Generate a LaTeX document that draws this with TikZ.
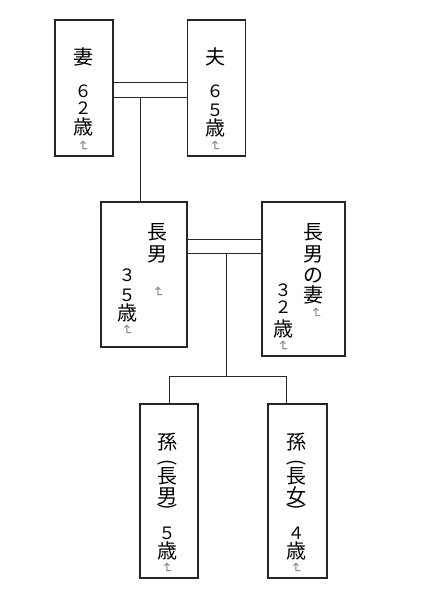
\documentclass[tikz,border=0pt]{standalone}
\usepackage{fontspec}
\newfontfamily\jpfont{Noto Sans CJK JP}
\newfontfamily\symfont{DejaVu Sans}
\usetikzlibrary{positioning}
\newcommand{\dg}[1]{{\fontsize{17}{20}\selectfont #1}}

\begin{document}
\begin{tikzpicture}[x=1pt, y=-1pt, node distance=10pt, on grid]
	\tikzstyle{person} = [draw=black!85, line width=1.1pt, rectangle, minimum width=58pt, inner sep=0pt];
	\tikzstyle{col} = [align=center, anchor=north, inner sep=0pt, font={\jpfont\fontsize{20}{20}\selectfont}];
	\tikzstyle{paren} = [inner sep=0pt, rotate=-90, font={\jpfont\fontsize{19}{19}\selectfont}];
	\tikzstyle{retmark} = [inner sep=0pt, rotate=-90, text=black!45, font={\symfont\fontsize{14}{14}\selectfont}];
	\tikzstyle{link} = [black!85, line width=0.9pt];

	\useasboundingbox (0,0) rectangle (432,600);

	% parents
	\node[person, minimum height=136pt](wife) at (84,88) {};
	\node[person, minimum height=136pt](husb) [right=132.5pt of wife] {};
	% eldest son and his wife
	\node[person, minimum width=86pt, minimum height=145pt](son) at (144,274.5) {};
	\node[person, minimum width=83pt, minimum height=154pt](sonwife) [right=159.5pt of son, yshift=-4.5pt] {};
	% grandchildren
	\node[person, minimum height=174pt](gcboy) at (169,491) {};
	\node[person, minimum width=59pt, minimum height=174pt](gcgirl) [right=128.5pt of gcboy] {};

	% texts
	\node[col](wifeT) at (83,47.6) {妻\\[13pt]\dg{６}\\[-3pt]\dg{２}\\歳};
	\node[retmark](wifeR) at (83,146) {↵};
	\node[col](husbT) at (215,47.6) {夫\\[13pt]\dg{６}\\[-1pt]\dg{５}\\[-1.5pt]歳};
	\node[retmark](husbR) at (215,146) {↵};

	\node[col](sonT) at (157,223.6) {長\\[2pt]男};
	\node[retmark](sonR) at (158,292) {↵};
	\node[col](sonAge) at (127,269) {\dg{３}\\\dg{５}\\[-1.5pt]歳};
	\node[retmark](sonAgeR) at (127,330) {↵};

	\node[col](swT) at (313,223.6) {長\\[2pt]男\\[1pt]の\\妻};
	\node[retmark](swR) at (316,313) {↵};
	\node[col](swAge) at (283,284) {\dg{３}\\[-3pt]\dg{２}\\[3pt]歳};
	\node[retmark](swAgeR) at (283,346) {↵};

	\node[col](boyT) at (167,432.6) {孫};
	\node[paren](boyP1) at (167,463) {(};
	\node[col](boyN) at (167,467.6) {長\\男};
	\node[paren](boyP2) at (167,507) {)};
	\node[col](boyAge) at (167,527) {\dg{５}\\[-1.5pt]歳};
	\node[retmark](boyR) at (167,568) {↵};

	\node[col](girlT) at (296,432.6) {孫};
	\node[paren](girlP1) at (296,463) {(};
	\node[col](girlN) at (296,467.6) {長\\女};
	\node[paren](girlP2) at (296,507) {)};
	\node[col](girlAge) at (296,527) {\dg{４}\\[-1.5pt]歳};
	\node[retmark](girlR) at (296,568) {↵};

	% connectors
	\coordinate (drop1) at (140,97);
	\coordinate (drop2) at (226,253);
	\coordinate (barL) at (169,376);
	\coordinate (barM) at (226,376);
	\coordinate (barR) at (286,376);

	\draw[link] ([yshift=6pt]wife.east) -- ([yshift=6pt]husb.west);
	\draw[link] ([yshift=-9pt]wife.east) -- ([yshift=-9pt]husb.west);
	\draw[link] (drop1) -- (drop1 |- son.north);
	\draw[link] ([yshift=35.5pt]son.east) -- ([yshift=35.5pt]son.east -| sonwife.west);
	\draw[link] ([yshift=21.5pt]son.east) -- ([yshift=21.5pt]son.east -| sonwife.west);
	\draw[link] (drop2) -- (barM);
	\draw[link] (barL) -- (barR);
	\draw[link] (barL) -- (gcboy.north);
	\draw[link] (barR) -- (barR |- gcgirl.north);
\end{tikzpicture}
\end{document}
